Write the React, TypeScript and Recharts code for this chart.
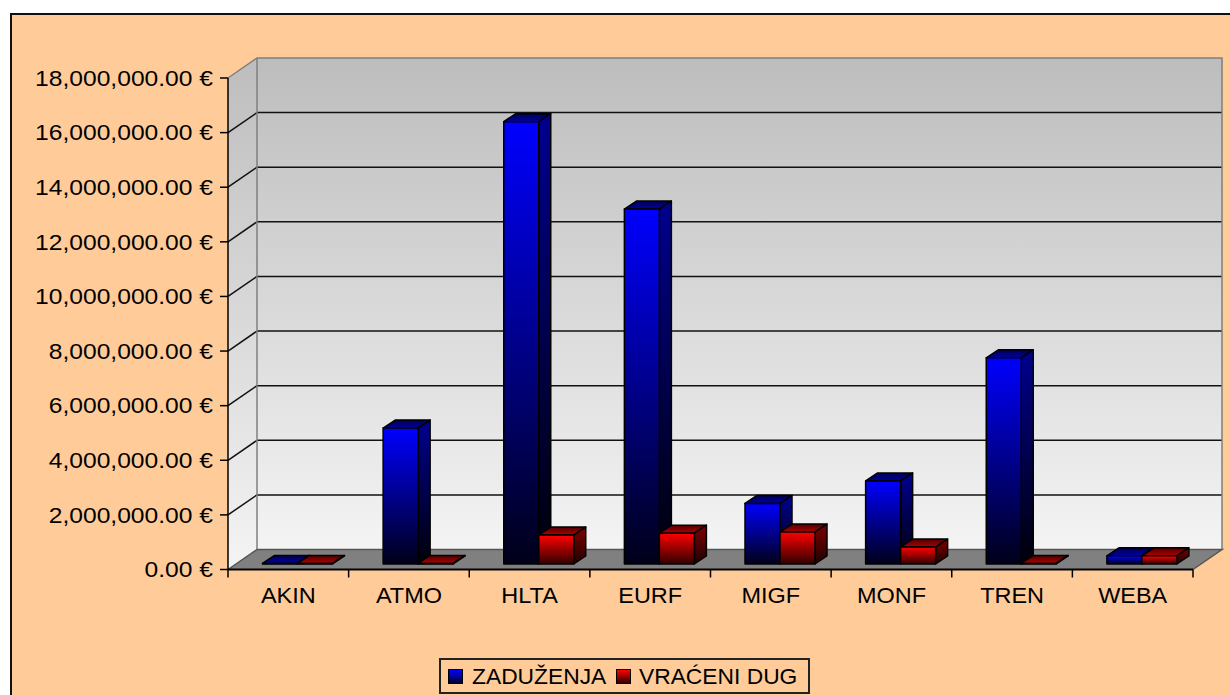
import React from "react"
import { BarChart, Bar, XAxis, YAxis, Legend } from "recharts"

const categories = ["AKIN", "ATMO", "HLTA", "EURF", "MIGF", "MONF", "TREN", "WEBA"]
const zaduzenja = [20000, 4980000, 16200000, 13000000, 2220000, 3040000, 7550000, 300000]
const vraceniDug = [20000, 20000, 1060000, 1130000, 1170000, 620000, 20000, 300000]
const yTicks = [0, 2000000, 4000000, 6000000, 8000000, 10000000, 12000000, 14000000, 16000000, 18000000]

const data = categories.map((name, i) => ({ name, zaduzenja: zaduzenja[i], vraceni: vraceniDug[i] }))

// plot box of the front plane
const LEFT = 228
const TOP = 78
const PLOT_W = 965
const PLOT_H = 491.5
const DEPTH_X = 29
const DEPTH_Y = 20
const FONT = "'Liberation Sans', Arial, sans-serif"

const fmt = (v: number) =>
  v.toLocaleString("en-US", { minimumFractionDigits: 2, maximumFractionDigits: 2 }) + " €"

function Grad({ id, from, to }: { id: string; from: string; to: string }) {
  return (
    <linearGradient id={id} x1="0" y1="0" x2="0" y2="1">
      <stop offset="0%" stopColor={from} />
      <stop offset="100%" stopColor={to} />
    </linearGradient>
  )
}

// back wall, side wall and floor of the 3D box
function Walls() {
  const right = LEFT + PLOT_W
  const bottom = TOP + PLOT_H
  const bx = LEFT + DEPTH_X
  const by = TOP - DEPTH_Y
  return (
    <g>
      <defs>
        <Grad id="wall" from="#bdbdbd" to="#f4f4f4" />
        <Grad id="blueFront" from="#0000ff" to="#000018" />
        <Grad id="blueSide" from="#000090" to="#000008" />
        <Grad id="blueTop" from="#000050" to="#0000a0" />
        <Grad id="redFront" from="#ff0000" to="#300000" />
        <Grad id="redSide" from="#800000" to="#200000" />
        <Grad id="redTop" from="#500000" to="#b00000" />
      </defs>
      <polygon
        points={`${LEFT},${TOP} ${bx},${by} ${bx},${bottom - DEPTH_Y} ${LEFT},${bottom}`}
        fill="url(#wall)"
      />
      <rect x={bx} y={by} width={PLOT_W} height={PLOT_H} fill="url(#wall)" />
      <polygon
        points={`${LEFT},${bottom} ${bx},${bottom - DEPTH_Y} ${right + DEPTH_X},${bottom - DEPTH_Y} ${right},${bottom}`}
        fill="#808080"
      />
      {yTicks.slice(1, -1).map((t) => {
        const y = bottom - (t / 18000000) * PLOT_H
        return (
          <g key={t} stroke="#111" strokeWidth={1.5}>
            <line x1={LEFT} y1={y} x2={bx} y2={y - DEPTH_Y} />
            <line x1={bx} y1={y - DEPTH_Y} x2={bx + PLOT_W} y2={y - DEPTH_Y} />
          </g>
        )
      })}
      <g stroke="#7f7f7f" strokeWidth={1.5} fill="none">
        <polyline points={`${LEFT},${TOP} ${bx},${by} ${bx + PLOT_W},${by} ${bx + PLOT_W},${by + PLOT_H}`} />
        <line x1={bx} y1={by} x2={bx} y2={by + PLOT_H} />
      </g>
      <g stroke="#555" strokeWidth={1.5} fill="none">
        <polyline points={`${LEFT},${bottom} ${bx},${bottom - DEPTH_Y} ${bx + PLOT_W},${bottom - DEPTH_Y} ${right},${bottom}`} />
      </g>
    </g>
  )
}

function Bar3D(props: any) {
  const { x, y, width, height, color } = props
  const sx = 9
  const sy = -5.5
  const dx = 12
  const dy = -8
  const l = x + sx
  const r = l + width
  const t = y + sy
  const b = t + height
  return (
    <g stroke="#000" strokeWidth={1.5} strokeLinejoin="round">
      <polygon points={`${l},${t} ${l + dx},${t + dy} ${r + dx},${t + dy} ${r},${t}`} fill={`url(#${color}Top)`} />
      <polygon points={`${r},${t} ${r + dx},${t + dy} ${r + dx},${b + dy} ${r},${b}`} fill={`url(#${color}Side)`} />
      <rect x={l} y={t} width={width} height={height} fill={`url(#${color}Front)`} />
    </g>
  )
}

function YTick({ x, y, payload }: any) {
  return (
    <g transform={`translate(${x},${y})`}>
      <text
        transform="scale(1.08,1)"
        textAnchor="end"
        dominantBaseline="central"
        fontFamily={FONT}
        fontSize={22.8}
        fill="#000"
      >
        {fmt(payload.value)}
      </text>
    </g>
  )
}

function XTick({ x, payload, index }: any) {
  const half = PLOT_W / categories.length / 2
  const axisY = TOP + PLOT_H
  return (
    <g>
      <line x1={x - half} y1={axisY} x2={x - half} y2={axisY + 8} stroke="#000" strokeWidth={1.5} />
      {index === categories.length - 1 && (
        <line x1={x + half} y1={axisY} x2={x + half} y2={axisY + 8} stroke="#000" strokeWidth={1.5} />
      )}
      <g transform={`translate(${x},${axisY + 26})`}>
        <text
          transform="scale(1.03,1)"
          textAnchor="middle"
          dominantBaseline="central"
          fontFamily={FONT}
          fontSize={22.8}
          fill="#000"
        >
          {payload.value}
        </text>
      </g>
    </g>
  )
}

function Swatch({ from, to }: { from: string; to: string }) {
  return (
    <span
      style={{
        display: "inline-block",
        width: 13,
        height: 13,
        border: "1.5px solid #000",
        background: `linear-gradient(${from}, ${to})`,
      }}
    />
  )
}

function LegendBox() {
  const label: React.CSSProperties = {
    position: "absolute",
    top: 3,
    fontFamily: FONT,
    fontSize: 22.8,
    lineHeight: "26px",
    color: "#000",
    whiteSpace: "nowrap",
    transform: "scaleX(1.0)",
    transformOrigin: "left",
  }
  return (
    <div style={{ position: "relative", width: 367, height: 32, border: "2px solid #222" }}>
      <div style={{ position: "absolute", left: 7, top: 9, lineHeight: 0 }}>
        <Swatch from="#0000ff" to="#000030" />
      </div>
      <span style={{ ...label, left: 31 }}>ZADUŽENJA</span>
      <div style={{ position: "absolute", left: 175, top: 9, lineHeight: 0 }}>
        <Swatch from="#ff0000" to="#300000" />
      </div>
      <span style={{ ...label, left: 198 }}>VRAĆENI DUG</span>
    </div>
  )
}

export default function App() {
  return (
    <div style={{ position: "absolute", left: 0, top: 0, width: 1230, height: 695, overflow: "hidden", background: "#fff" }}>
      <div
        style={{
          position: "absolute",
          left: 10,
          top: 13,
          width: 1300,
          height: 800,
          background: "#ffcc99",
          border: "2px solid #111",
        }}
      />
      <div style={{ position: "absolute", left: 0, top: 0 }}>
        <BarChart
          width={1230}
          height={695}
          data={data}
          margin={{ top: TOP, right: 1230 - LEFT - PLOT_W, bottom: 695 - TOP - PLOT_H - 30, left: 0 }}
          barCategoryGap={25.5}
          barGap={0}
        >
          <Walls />
          <XAxis dataKey="name" height={30} tick={<XTick />} tickLine={false} axisLine={{ stroke: "#000", strokeWidth: 2 }} interval={0} />
          <YAxis
            width={LEFT}
            domain={[0, 18000000]}
            ticks={yTicks}
            tick={<YTick />}
            tickSize={8}
            tickMargin={7}
            tickLine={{ stroke: "#000", strokeWidth: 1.5 }}
            axisLine={{ stroke: "#000", strokeWidth: 1.5 }}
            interval={0}
          />
          <Bar dataKey="zaduzenja" name="ZADUŽENJA" isAnimationActive={false} shape={<Bar3D color="blue" />} />
          <Bar dataKey="vraceni" name="VRAĆENI DUG" isAnimationActive={false} shape={<Bar3D color="red" />} />
          <Legend
            layout="vertical"
            align="center"
            verticalAlign="middle"
            content={<LegendBox />}
            wrapperStyle={{ left: 439, top: 658, width: 371, height: 36 }}
          />
        </BarChart>
      </div>
    </div>
  )
}
